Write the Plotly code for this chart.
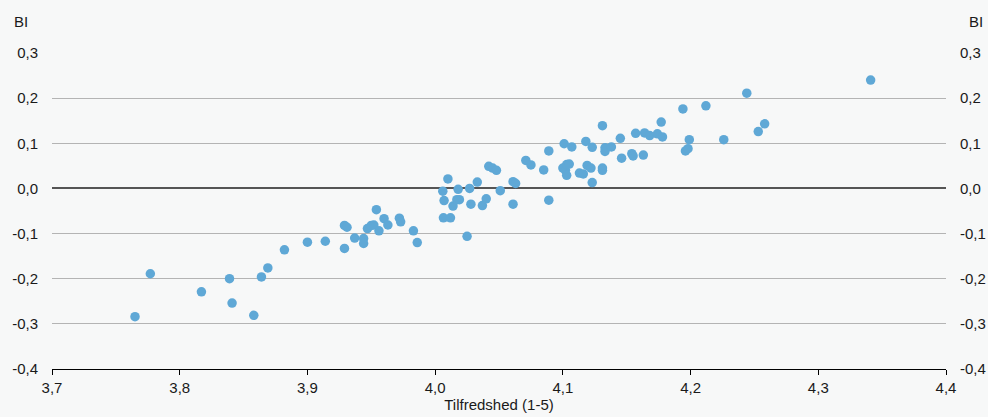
import plotly.graph_objects as go

# Tilfredshed (x) and BI (y) values
tilfredshed = [
    3.765, 3.777, 3.817, 3.839, 3.841, 3.858, 3.864, 3.869, 3.882, 3.900, 3.914,
    3.929, 3.931, 3.929, 3.937, 3.944, 3.944, 3.947, 3.950, 3.952, 3.954, 3.956,
    3.960, 3.963, 3.972, 3.973, 3.983, 3.986, 4.006, 4.010, 4.007, 4.0065, 4.012,
    4.014, 4.017, 4.019, 4.018, 4.025,
    4.027, 4.028, 4.033, 4.037, 4.040, 4.042, 4.045, 4.048, 4.051, 4.061, 4.063,
    4.061, 4.071, 4.075, 4.085, 4.089, 4.089, 4.101, 4.107, 4.100, 4.102, 4.103,
    4.105, 4.103, 4.113, 4.116, 4.118, 4.119, 4.122, 4.123, 4.123,
    4.131, 4.133, 4.133, 4.138, 4.131, 4.131, 4.145, 4.146, 4.154, 4.155, 4.157,
    4.163, 4.164, 4.168, 4.174, 4.178, 4.177, 4.194, 4.196, 4.198, 4.199, 4.212,
    4.226, 4.244, 4.253, 4.258,
    4.341,
]
bi = [
    -0.284, -0.189, -0.229, -0.200, -0.254, -0.281, -0.196, -0.176, -0.136, -0.119, -0.117,
    -0.082, -0.086, -0.133, -0.110, -0.111, -0.122, -0.089, -0.082, -0.081, -0.047, -0.094,
    -0.067, -0.081, -0.066, -0.074, -0.094, -0.120, -0.006, 0.021, -0.027, -0.065, -0.065,
    -0.039, -0.025, -0.025, -0.002, -0.106,
    0.000, -0.035, 0.014, -0.038, -0.023, 0.049, 0.045, 0.040, -0.005, 0.015, 0.011,
    -0.035, 0.062, 0.052, 0.041, 0.083, -0.026, 0.099, 0.092, 0.045, 0.040, 0.053,
    0.054, 0.029, 0.034, 0.032, 0.104, 0.051, 0.045, 0.091, 0.013,
    0.139, 0.090, 0.082, 0.092, 0.045, 0.040, 0.111, 0.067, 0.077, 0.072, 0.122,
    0.074, 0.123, 0.117, 0.121, 0.114, 0.147, 0.176, 0.083, 0.088, 0.108, 0.183,
    0.108, 0.211, 0.126, 0.143,
    0.240,
]

x_ticks = [3.7, 3.8, 3.9, 4.0, 4.1, 4.2, 4.3, 4.4]
x_tick_labels = ["3,7", "3,8", "3,9", "4,0", "4,1", "4,2", "4,3", "4,4"]
y_ticks = [-0.4, -0.3, -0.2, -0.1, 0.0, 0.1, 0.2, 0.3]
y_tick_labels = ["-0,4", "-0,3", "-0,2", "-0,1", "0,0", "0,1", "0,2", "0,3"]

BG = "#f7f8f8"
FONT = "Liberation Sans"
FS = 15
TXT = "#1a1a1a"

fig = go.Figure()
fig.add_trace(go.Scatter(
    x=tilfredshed, y=bi, mode="markers",
    marker=dict(size=9.5, color="#5fa8d6", line=dict(width=0)),
    showlegend=False, hoverinfo="x+y",
))
fig.add_trace(go.Scatter(x=[None], y=[None], yaxis="y2", showlegend=False, hoverinfo="skip"))

yaxis_common = dict(
    range=[-0.4, 0.3], tickvals=y_ticks, ticktext=y_tick_labels,
    tickfont=dict(family=FONT, size=FS, color=TXT),
    ticks="", ticklabelstandoff=13, automargin=False,
)

fig.update_layout(
    width=988, height=417,
    margin=dict(l=52, r=42, t=53, b=48, autoexpand=False),
    paper_bgcolor=BG, plot_bgcolor=BG,
    font=dict(family=FONT, size=FS, color=TXT),
    xaxis=dict(
        range=[3.7, 4.4], tickvals=x_ticks, ticktext=x_tick_labels,
        showgrid=False, zeroline=False, automargin=False,
        showline=True, linecolor="#000", linewidth=1,
        ticks="outside", ticklen=5, tickcolor="#000", tickwidth=1,
        tickfont=dict(family=FONT, size=FS, color=TXT),
        title=dict(text="Tilfredshed (1-5)", font=dict(family=FONT, size=FS, color=TXT), standoff=2),
    ),
    yaxis=dict(
        **yaxis_common,
        showgrid=True, gridcolor="#b4b4b4", gridwidth=1,
        zeroline=True, zerolinecolor="#555", zerolinewidth=1.5,
        showline=False,
    ),
    yaxis2=dict(
        **yaxis_common,
        overlaying="y", side="right",
        showgrid=False, zeroline=False, showline=False,
    ),
    annotations=[
        dict(text="BI", xref="paper", yref="paper", x=(12 - 52) / 894, y=1.0, yshift=32,
             xanchor="left", yanchor="middle", showarrow=False,
             font=dict(family=FONT, size=FS, color=TXT)),
        dict(text="BI", xref="paper", yref="paper", x=(985 - 52) / 894, y=1.0, yshift=32,
             xanchor="right", yanchor="middle", showarrow=False,
             font=dict(family=FONT, size=FS, color=TXT)),
    ],
)

fig.write_html(
    "out.html",
    config={"displayModeBar": False},
    post_script="document.body.style.margin='0';document.body.style.overflow='hidden';",
)
